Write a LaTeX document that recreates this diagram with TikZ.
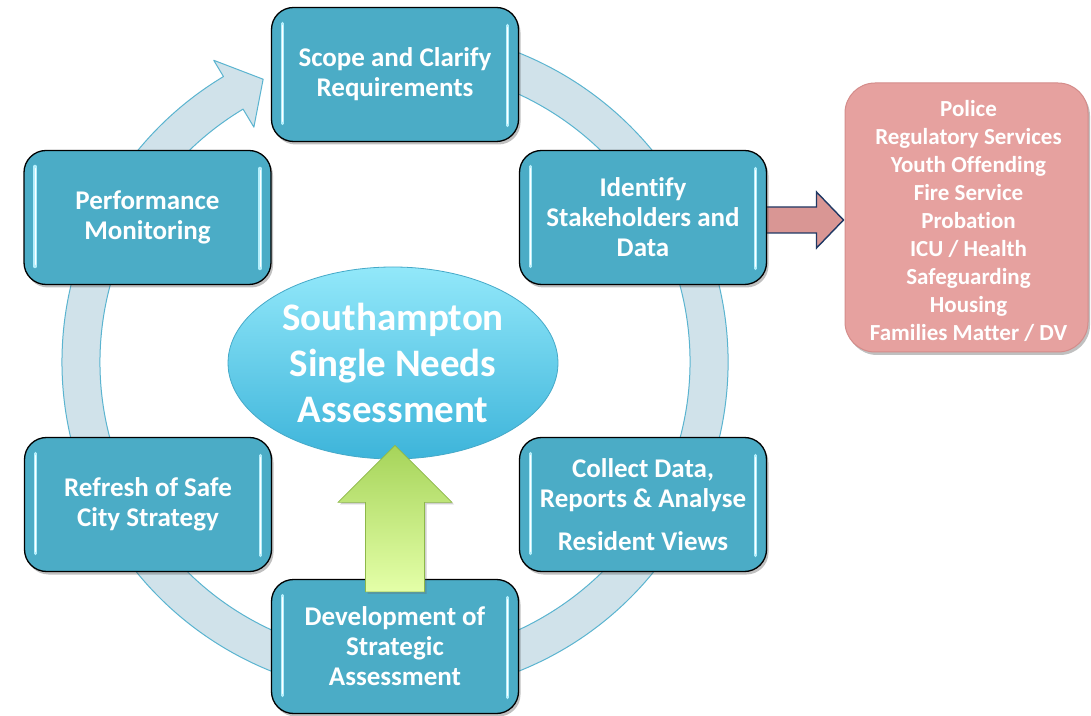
\documentclass[tikz,border=0pt]{standalone}
\usepackage{fontspec}
\setmainfont{Carlito}[Ligatures=NoCommon]
\usetikzlibrary{shapes.geometric,shadows,backgrounds,calc}

\definecolor{boxteal}{HTML}{4BACC6}
\definecolor{ringfill}{HTML}{D0E2EA}
\definecolor{ringline}{HTML}{5AB4D0}
\definecolor{hubtop}{HTML}{92E8FA}
\definecolor{hubbottom}{HTML}{3DB4DA}
\definecolor{hubline}{HTML}{45A9C8}
\definecolor{greentop}{HTML}{A6D45A}
\definecolor{greenbottom}{HTML}{E4FFA8}
\definecolor{greenline}{HTML}{8DB84A}
\definecolor{rosefill}{HTML}{D99694}
\definecolor{navyline}{HTML}{1F3864}
\definecolor{agencyfill}{HTML}{E6A19F}
\definecolor{agencyline}{HTML}{D48C8A}
\definecolor{glint}{HTML}{B4EEFB}

\tikzset{
  softshadow/.style={drop shadow={shadow xshift=2pt, shadow yshift=-3pt, opacity=0.35, fill=black!70}},
  stepbox/.style={draw=black, line width=1.3pt, fill=boxteal, rounded corners=22pt,
    minimum width=247pt, minimum height=134pt, text=white, align=center,
    font=\fontsize{27}{30}\selectfont\bfseries, softshadow,
    path picture={
      \draw[glint, line width=3.5pt, line cap=round]
        ([xshift=11pt,yshift=-16pt]path picture bounding box.north west) --
        ([xshift=11pt,yshift=18pt]path picture bounding box.south west);
      \draw[glint, line width=3.5pt, line cap=round]
        ([xshift=-11pt,yshift=-18pt]path picture bounding box.north east) --
        ([xshift=-11pt,yshift=16pt]path picture bounding box.south east);
      \draw[white, line width=1pt, line cap=round]
        ([xshift=11pt,yshift=-18pt]path picture bounding box.north west) --
        ([xshift=11pt,yshift=20pt]path picture bounding box.south west);
      \draw[white, line width=1pt, line cap=round]
        ([xshift=-11pt,yshift=-20pt]path picture bounding box.north east) --
        ([xshift=-11pt,yshift=18pt]path picture bounding box.south east);
    }},
  hubstyle/.style={ellipse, minimum width=330pt, minimum height=192pt, inner sep=0pt,
    top color=hubtop, bottom color=hubbottom, draw=hubline, line width=0.8pt,
    text=white, align=center, font=\fontsize{39}{46}\selectfont\bfseries},
  agencybox/.style={rounded corners=30pt, minimum width=243pt, minimum height=269pt,
    fill=agencyfill, draw=agencyline, line width=1pt, softshadow},
  agencytext/.style={text=white, align=center, font=\fontsize{23}{28}\selectfont\bfseries},
  cyclering/.style={draw=ringline, line width=1pt, fill=ringfill, line join=round},
  pointer/.style={draw=navyline, line width=1.4pt, fill=rosefill, line join=miter},
  uparrow/.style={draw=greenline, line width=0.6pt, top color=greentop, bottom color=greenbottom,
    line join=miter, drop shadow={shadow xshift=2pt, shadow yshift=-2pt, opacity=0.3, fill=black!60}}
}

\begin{document}
\begin{tikzpicture}[x=1pt, y=1pt]
  \useasboundingbox (0,0) rectangle (1091,715);

  % Cycle steps
  \node[stepbox] (scope)   at (395,640.5) {Scope and Clarify\\Requirements};
  \node[stepbox] (ident)   at (643,497.5) {Identify\\Stakeholders and\\Data};
  \node[stepbox] (perf)    at (147.5,497.5) {Performance\\Monitoring};
  \node[stepbox] (collect) at (643,210.5) {Collect Data,\\Reports \& Analyse\\[13pt]Resident Views};
  \node[stepbox] (refresh) at (148,210.5) {Refresh of Safe\\City Strategy};
  \node[stepbox] (dev)     at (395,68.5) {Development of\\Strategic\\Assessment};

  % Central assessment
  \node[hubstyle] (hub) at (393,352) {Southampton\\Single Needs\\Assessment};

  % Partner agencies
  \node[agencybox] (agencies) at (966.5,497.5) {};
  \node[agencytext] (agencylist) at ([xshift=2pt,yshift=-3pt]agencies.center)
    {Police\\Regulatory Services\\Youth Offending\\Fire Service\\Probation\\ICU / Health\\Safeguarding\\Housing\\Families Matter / DV};

  % Block arrow feeding the assessment
  \draw[uparrow] let \p1=(hub.south), \p2=(dev.north) in
    (\x2,\y1+14pt) -- (\x2+57pt,\y1-43pt) -- (\x2+29.5pt,\y1-43pt) -- (\x2+29.5pt,\y2-13pt)
    -- (\x2-29.5pt,\y2-13pt) -- (\x2-29.5pt,\y1-43pt) -- (\x2-57pt,\y1-43pt) -- cycle;

  \begin{scope}[on background layer]
    \fill[white] (0,0) rectangle (1091,715);
    % Circular process arrow
    \coordinate (ringc) at (395,353);
    \begin{scope}[shift={(ringc)}]
      \draw[cyclering] (108:333) arc[start angle=108, end angle=-239, radius=333]
        -- (-239:352) -- (-245:312) -- (-239:274) -- (-239:295)
        arc[start angle=-239, end angle=108, radius=295] -- cycle;
    \end{scope}
    % Arrow to partner agencies
    \draw[pointer] let \p1=(ident.east), \p2=(agencies.west) in
      (\x1-8pt,\y1+10.5pt) -- (\x2-28pt,\y1+10.5pt) -- (\x2-28pt,\y1+25.5pt) -- (\x2-1pt,\y1-2.5pt)
      -- (\x2-28pt,\y1-30.5pt) -- (\x2-28pt,\y1-15.5pt) -- (\x1-8pt,\y1-15.5pt) -- cycle;
  \end{scope}
\end{tikzpicture}
\end{document}
